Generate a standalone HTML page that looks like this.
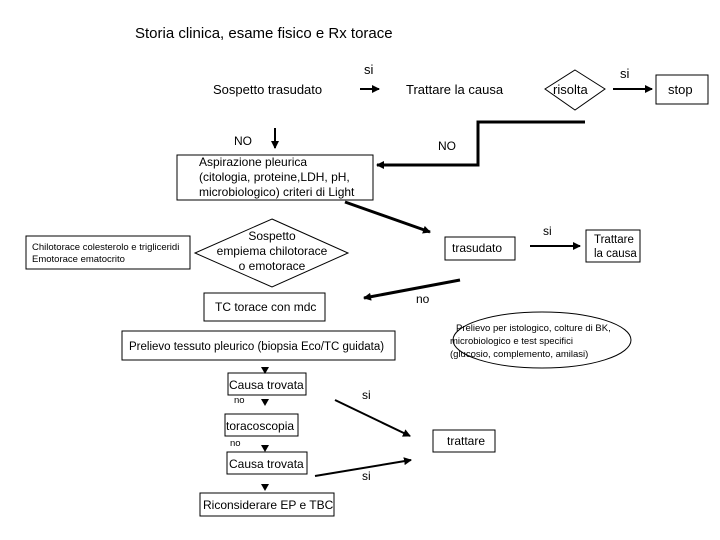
<!DOCTYPE html>
<html><head><meta charset="utf-8"><style>
html,body{margin:0;padding:0;background:#fff;}
svg{display:block;font-family:"Liberation Sans",Arial,sans-serif;}
</style></head><body>
<svg width="720" height="540" viewBox="0 0 720 540" xmlns="http://www.w3.org/2000/svg">
<defs>
<marker id="a" markerWidth="8" markerHeight="8" refX="7" refY="4" orient="auto" markerUnits="userSpaceOnUse">
<path d="M0,0 L8,4 L0,8 z" fill="#000"/></marker>
</defs>
<g fill="#000" font-size="14">
<text x="135" y="38" font-size="15">Storia clinica, esame fisico e Rx torace</text>
<text x="364" y="74" font-size="13">si</text>
<text x="213" y="94" font-size="13">Sospetto trasudato</text>
<text x="406" y="94" font-size="13">Trattare la causa</text>
<text x="620" y="78" font-size="13">si</text>
<text x="234" y="145" font-size="12">NO</text>
<text x="438" y="150" font-size="12">NO</text>
</g>
<g stroke="#000" fill="none" stroke-width="1">
<line x1="360" y1="89" x2="379" y2="89" stroke-width="2" marker-end="url(#a)"/>
<polygon points="575,70 605,89 575,110 545,89" fill="#fff"/>
<line x1="613" y1="89" x2="652" y2="89" stroke-width="2" marker-end="url(#a)"/>
<rect x="656" y="75" width="52" height="29" fill="#fff"/>
<line x1="275" y1="128" x2="275" y2="148" stroke-width="2" marker-end="url(#a)"/>
<polyline points="585,122 478,122 478,165 377,165" stroke-width="3" marker-end="url(#a)"/>
<rect x="177" y="155" width="196" height="45" fill="#fff"/>
<line x1="345" y1="202" x2="430" y2="232" stroke-width="3" marker-end="url(#a)"/>
<rect x="26" y="236" width="164" height="33" fill="#fff"/>
<polygon points="272,219 348,253 272,287 195,253" fill="#fff"/>
<rect x="445" y="237" width="70" height="23" fill="#fff"/>
<line x1="530" y1="246" x2="580" y2="246" stroke-width="2" marker-end="url(#a)"/>
<rect x="586" y="230" width="54" height="32" fill="#fff"/>
<line x1="460" y1="280" x2="364" y2="298" stroke-width="3" marker-end="url(#a)"/>
<rect x="204" y="293" width="121" height="28" fill="#fff"/>
<rect x="122" y="331" width="273" height="29" fill="#fff"/>
<ellipse cx="542" cy="340" rx="89" ry="28" fill="#fff"/>
<rect x="228" y="373" width="78" height="22" fill="#fff"/>
<rect x="225" y="414" width="73" height="22" fill="#fff"/>
<rect x="227" y="452" width="80" height="22" fill="#fff"/>
<rect x="200" y="493" width="134" height="23" fill="#fff"/>
<rect x="433" y="430" width="62" height="22" fill="#fff"/>
<line x1="335" y1="400" x2="410" y2="436" stroke-width="2" marker-end="url(#a)"/>
<line x1="315" y1="476" x2="411" y2="460" stroke-width="2" marker-end="url(#a)"/>
</g>
<g fill="#000">
<polygon points="261,367 269,367 265,374"/>
<polygon points="261,399 269,399 265,406"/>
<polygon points="261,445 269,445 265,452"/>
<polygon points="261,484 269,484 265,491"/>
</g>
<g fill="#000" font-size="12">
<text x="668" y="94" font-size="13">stop</text>
<text x="553" y="94" font-size="13">risolta</text>
<text x="199" y="166">Aspirazione pleurica</text>
<text x="199" y="181">(citologia, proteine,LDH, pH,</text>
<text x="199" y="196">microbiologico) criteri di Light</text>
<text x="32" y="250" font-size="9.5">Chilotorace colesterolo e trigliceridi</text>
<text x="32" y="262" font-size="9.5">Emotorace ematocrito</text>
<text x="272" y="240" text-anchor="middle">Sospetto</text>
<text x="272" y="255" text-anchor="middle">empiema chilotorace</text>
<text x="272" y="270" text-anchor="middle">o emotorace</text>
<text x="452" y="252">trasudato</text>
<text x="543" y="235">si</text>
<text x="594" y="243" font-size="11.5">Trattare</text>
<text x="594" y="257" font-size="11.5">la causa</text>
<text x="416" y="303">no</text>
<text x="215" y="311">TC torace con mdc</text>
<text x="129" y="350" font-size="11.5">Prelievo tessuto pleurico (biopsia Eco/TC guidata)</text>
<text x="456" y="331" font-size="9.5">Prelievo per istologico, colture di BK,</text>
<text x="450" y="344" font-size="9.5">microbiologico e test specifici</text>
<text x="450" y="357" font-size="9.5">(glucosio, complemento, amilasi)</text>
<text x="229" y="389">Causa trovata</text>
<text x="234" y="403" font-size="9.5">no</text>
<text x="362" y="399">si</text>
<text x="226" y="430">toracoscopia</text>
<text x="230" y="446" font-size="9.5">no</text>
<text x="447" y="445">trattare</text>
<text x="229" y="468">Causa trovata</text>
<text x="362" y="480">si</text>
<text x="203" y="509">Riconsiderare EP e TBC</text>
</g>
</svg>
</body></html>
